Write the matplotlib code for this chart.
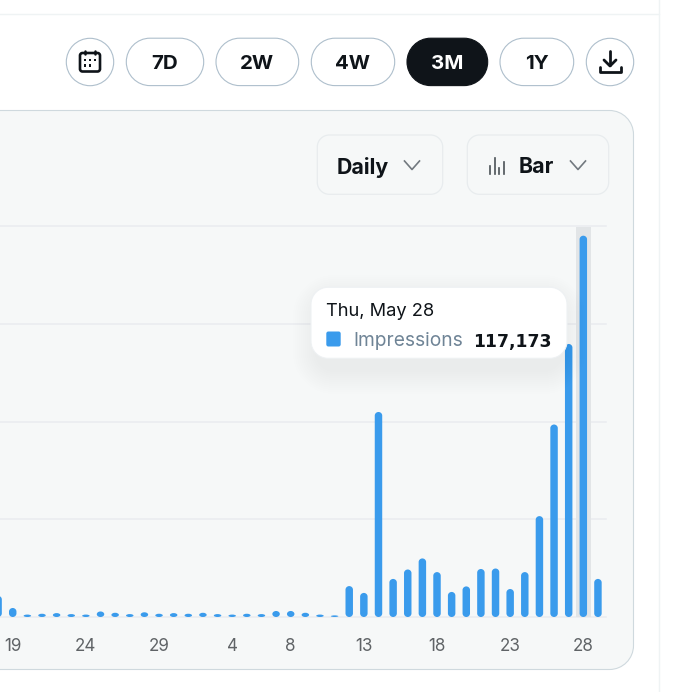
import matplotlib
matplotlib.use('Agg')
import matplotlib.pyplot as plt
from matplotlib.patches import PathPatch, Circle, Rectangle
from matplotlib.path import Path

# Daily impressions, oldest bar is cut off by the left edge of the card
impressions = [6500, 2770, 750, 1000, 1200, 900, 750, 1700, 1300, 900, 1450, 1000,
               1200, 1000, 1300, 900, 750, 1000, 900, 1850, 1850, 1300, 750, 500,
               9500, 7400, 63000, 11700, 14600, 18000, 13800, 7700, 9400, 14750,
               14900, 8600, 13800, 31000, 59150, 83900, 117173, 11700]
tick_days = ['19', '24', '29', '4', '8', '13', '18', '23', '28']
tick_index = [1, 6, 11, 16, 20, 25, 30, 35, 40]
grid_values = [0, 30000, 60000, 90000, 120000]
selected = 40
ranges = ['7D', '2W', '4W', '3M', '1Y']
active_range = '3M'

W, H = 676, 692
BLUE = '#3a9bec'
INK = '#0f1419'
plt.rcParams['font.family'] = ['Inter', 'DejaVu Sans']


def pt(px):
    return px * 0.72


def round_path(x0, y0, x1, y1, rx, ry):
    # rectangle with elliptical corners, y0 < y1 in whatever units the axes use
    k = 0.5523
    verts = [(x0, y0 + ry), (x0, y1 - ry),
             (x0, y1 - ry + k * ry), (x0 + rx - k * rx, y1), (x0 + rx, y1),
             (x1 - rx, y1),
             (x1 - rx + k * rx, y1), (x1, y1 - ry + k * ry), (x1, y1 - ry),
             (x1, y0 + ry),
             (x1, y0 + ry - k * ry), (x1 - rx + k * rx, y0), (x1 - rx, y0),
             (x0 + rx, y0),
             (x0 + rx - k * rx, y0), (x0, y0 + ry - k * ry), (x0, y0 + ry),
             (x0, y0 + ry)]
    codes = [Path.MOVETO, Path.LINETO] + [Path.CURVE4] * 3 + [Path.LINETO] + [Path.CURVE4] * 3 + \
            [Path.LINETO] + [Path.CURVE4] * 3 + [Path.LINETO] + [Path.CURVE4] * 3 + [Path.CLOSEPOLY]
    return Path(verts, codes)


def rounded(ax, x0, y0, x1, y1, r, **kw):
    p = PathPatch(round_path(x0, y0, x1, y1, r, r), **kw)
    ax.add_patch(p)
    return p


fig = plt.figure(figsize=(W / 100, H / 100), dpi=100, facecolor='white')

# page chrome and card behind the chart
bg = fig.add_axes([0, 0, 1, 1], zorder=0)
bg.set_xlim(0, W)
bg.set_ylim(H, 0)
bg.axis('off')
bg.plot([0, 658.5], [13.5, 13.5], color='#eff3f4', lw=1)
bg.plot([658.5, 658.5], [0, H], color='#eff3f4', lw=1)
rounded(bg, -40, 110.5, 633.5, 669.5, 24, fc='#f6f8f8', ec='#cfd9de', lw=0.8)

# range buttons
pills = [(126.3, 203.7), (216, 298.7), (311.3, 394.7), (407, 487.7), (500, 573.7)]
for label, (x0, x1) in zip(ranges, pills):
    on = label == active_range
    rounded(bg, x0, 38.2, x1, 85.6, 23.7, fc=INK if on else 'white',
            ec=INK if on else '#aebfcc', lw=0.8)
    bg.text((x0 + x1) / 2, 62, label, ha='center', va='center_baseline',
            fontsize=pt(20.5), fontweight='bold', color='white' if on else INK)

for cx in (90, 610):
    bg.add_patch(Circle((cx, 62), 23.7, fc='white', ec='#aebfcc', lw=0.8))

# calendar icon
rounded(bg, 80, 53, 100, 71.5, 2.5, fc='none', ec=INK, lw=1.9)
bg.plot([85, 85], [51.2, 54], color=INK, lw=1.8, solid_capstyle='round')
bg.plot([95, 95], [51.2, 54], color=INK, lw=1.8, solid_capstyle='round')
for dx, dy in [(85, 60), (90, 60), (95, 60), (85, 65.5), (90, 65.5)]:
    bg.add_patch(Rectangle((dx - 1.1, dy - 1.1), 2.2, 2.2, fc=INK, ec='none'))

# download icon
bg.plot([610, 610], [51, 65], color=INK, lw=2, solid_capstyle='round')
bg.plot([604, 610, 616], [60, 66, 60], color=INK, lw=2, solid_capstyle='round', solid_joinstyle='round')
bg.plot([599.5, 599.5, 620.5, 620.5], [67, 72, 72, 67], color=INK, lw=2, solid_capstyle='round', solid_joinstyle='round')

# dropdowns
rounded(bg, 317.3, 135, 442.7, 194.3, 12, fc='#f6f8f8', ec='#e8ecee', lw=0.9)
rounded(bg, 467.3, 135, 608.7, 194.3, 12, fc='#f6f8f8', ec='#e8ecee', lw=0.9)
bg.text(337, 165, 'Daily', ha='left', va='center_baseline', fontsize=pt(21.3), fontweight='bold', color=INK)
bg.text(519, 165, 'Bar', ha='left', va='center_baseline', fontsize=pt(21.3), fontweight='bold', color=INK)
for cx in (412, 578):
    bg.plot([cx - 7.5, cx, cx + 7.5], [161, 169.5, 161], color='#72797f', lw=1.2)
for bx, tip in zip((490, 494.7, 499.4, 504), (166, 158, 168, 162)):
    bg.plot([bx, bx], [tip, 173.5], color='#4b5257', lw=1.2)

# chart area
ax = fig.add_axes([0, 1 - 617 / H, 605.7 / W, (617 - 226.5) / H], zorder=1)
ax.patch.set_alpha(0)
ax.set_xlim(0.13, 41.53)
ax.set_ylim(0, 120000)
for s in ax.spines.values():
    s.set_visible(False)
ax.set_yticks(grid_values)
ax.set_yticklabels([])
ax.grid(axis='y', color='#e9ecf0', lw=1.1, clip_on=False)
ax.set_axisbelow(True)
ax.set_xticks(tick_index)
ax.set_xticklabels(tick_days, fontsize=pt(17), color='#5f6366')
ax.tick_params(length=0, pad=15)
ax.tick_params(axis='y', length=0)

ax.axvspan(selected - 0.5, selected + 0.5, color='#e2e5e7', lw=0, zorder=1)
for i, v in enumerate(impressions):
    ry = min(1100, v / 2)
    ax.add_patch(PathPatch(round_path(i - 0.255, 0, i + 0.255, v, 0.255, ry),
                           fc=BLUE, ec='none', zorder=2))

# tooltip on top of the bars
top = fig.add_axes([0, 0, 1, 1], zorder=2)
top.set_xlim(0, W)
top.set_ylim(H, 0)
top.axis('off')
for grow in range(24, 0, -2):
    rounded(top, 311 - grow + 6, 287 + 12 - grow, 567 + grow - 6, 358 + 12 + grow, 17 + grow,
            fc='black', ec='none', alpha=0.005)
rounded(top, 311, 287.3, 567, 358.3, 17, fc='white', ec='#eef1f3', lw=0.8)
top.text(326, 309, 'Thu, May 28', ha='left', va='center_baseline', fontsize=pt(18.3), color=INK)
rounded(top, 326.3, 331.5, 340.7, 346.5, 2, fc=BLUE, ec='none')
top.text(353, 339.5, 'Impressions', ha='left', va='center_baseline', fontsize=pt(19.2), color='#6f8496')
top.text(552, 339.5, f'{impressions[selected]:,}', ha='right', va='center_baseline',
         fontsize=pt(17.2), fontweight='bold', color=INK, family='DejaVu Sans')

fig.savefig('out.png', dpi=100)
